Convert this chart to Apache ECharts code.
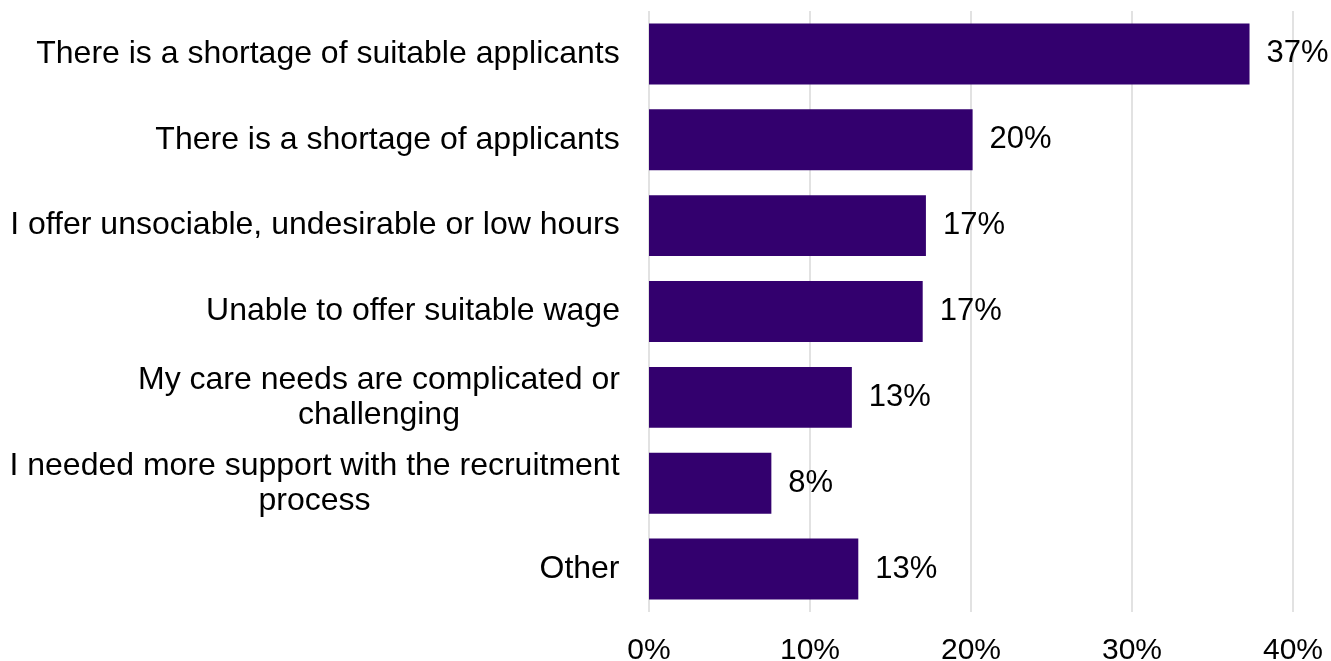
<!DOCTYPE html>
<html>
<head>
<meta charset="utf-8">
<script src="https://cdn.jsdelivr.net/npm/echarts@6/dist/echarts.min.js"></script>
<style>
  html, body { margin: 0; padding: 0; background: #ffffff; }
  #chart { width: 1331px; height: 661px; }
</style>
</head>
<body>
<div id="chart"></div>
<script>
// Reasons for recruitment difficulty (share of respondents, %)
const categories = [
  'There is a shortage of suitable applicants',
  'There is a shortage of applicants',
  'I offer unsociable, undesirable or low hours',
  'Unable to offer suitable wage',
  'My care needs are complicated or\nchallenging',
  'I needed more support with the recruitment\nprocess',
  'Other'
];
const values = [37.3, 20.1, 17.2, 17.0, 12.6, 7.6, 13.0];
const axisTicks = [0, 10, 20, 30, 40];

const FONT = '"Liberation Sans", Arial, sans-serif';
const CAT_SIZE = 32;
const VAL_SIZE = 31;
const TICK_SIZE = 30;

// Multi-line labels: each line centred within the block's widest line
const ctx = document.createElement('canvas').getContext('2d');
ctx.font = CAT_SIZE + 'px ' + FONT;
const rich = {};
categories.forEach((c, i) => {
  const lines = c.split('\n');
  const w = Math.max(...lines.map(l => ctx.measureText(l).width));
  rich['c' + i] = { width: Math.ceil(w), align: 'center', fontSize: CAT_SIZE, fontFamily: FONT, color: '#000', lineHeight: 35 };
});

const chart = echarts.init(document.getElementById('chart'), null, { renderer: 'canvas' });
chart.setOption({
  animation: false,
  grid: { left: 649, right: 38, top: 11, bottom: 49, containLabel: false, outerBoundsMode: 'none' },
  xAxis: {
    type: 'value',
    min: axisTicks[0],
    max: axisTicks[axisTicks.length - 1],
    interval: 10,
    axisLine: { show: false },
    axisTick: { show: false },
    splitLine: { show: true, lineStyle: { color: '#d9d9d9', width: 1.5 } },
    axisLabel: {
      formatter: v => v + '%',
      color: '#000', fontSize: TICK_SIZE, fontFamily: FONT, margin: 24
    }
  },
  yAxis: {
    type: 'category',
    inverse: true,
    data: categories,
    axisLine: { show: false },
    axisTick: { show: false },
    axisLabel: {
      margin: 29,
      align: 'right',
      fontSize: CAT_SIZE, fontFamily: FONT, color: '#000',
      formatter: (val, idx) => val.split('\n').map(l => '{c' + idx + '|' + l + '}').join('\n'),
      rich: rich
    }
  },
  series: [{
    type: 'bar',
    data: values,
    barCategoryGap: '29%',
    itemStyle: { color: '#33006e' },
    label: {
      show: true,
      position: 'right',
      distance: 17,
      formatter: p => Math.round(p.value) + '%',
      color: '#000', fontSize: VAL_SIZE, fontFamily: FONT
    }
  }]
});
</script>
</body>
</html>
